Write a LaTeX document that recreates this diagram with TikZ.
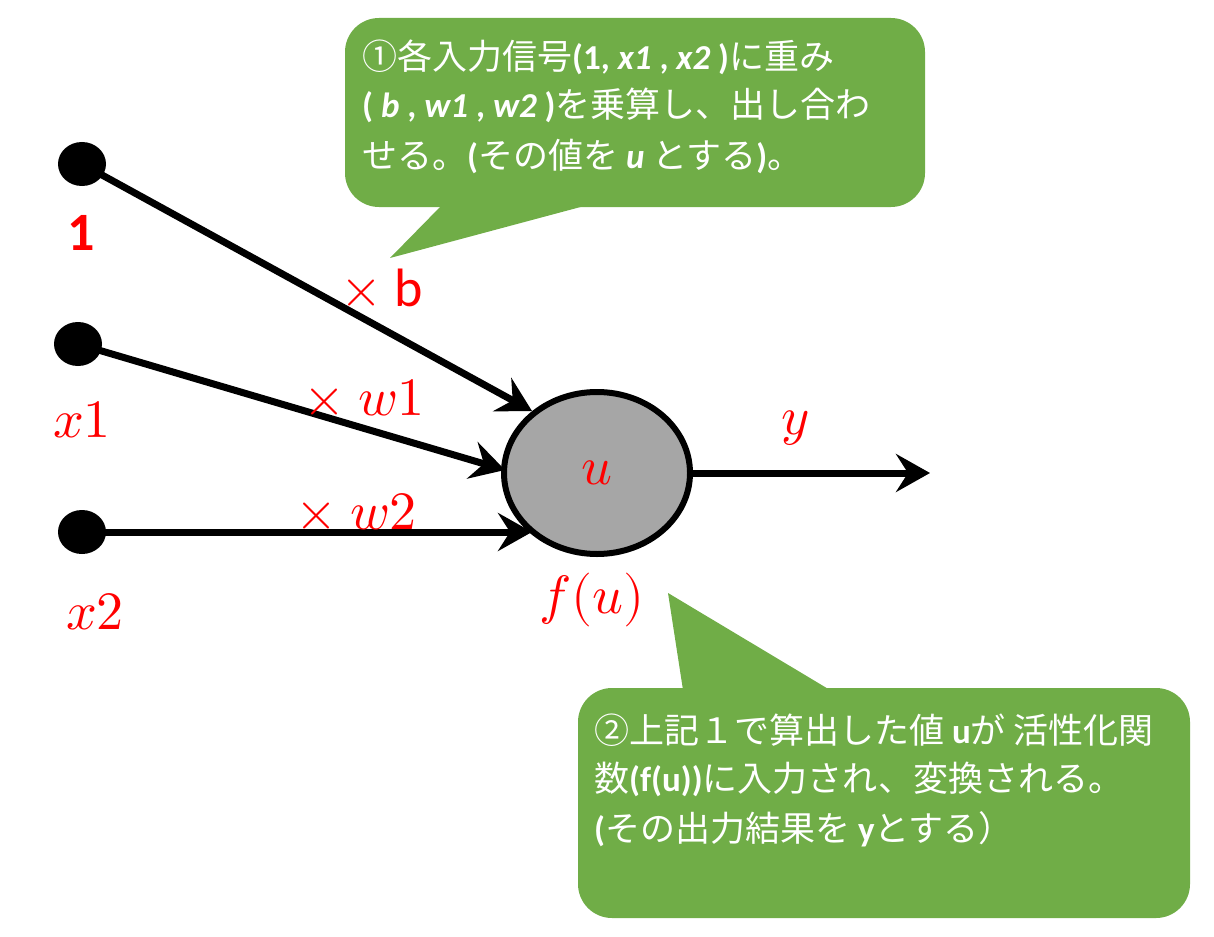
\documentclass[tikz,border=0pt]{standalone}
\usepackage{fontspec}
\usepackage{unicode-math}
\setmainfont{Carlito}
\setmathfont{Latin Modern Math}
\newfontfamily\jp{Noto Sans CJK JP}
\usetikzlibrary{arrows.meta,shapes.geometric}
\definecolor{callgreen}{HTML}{70AD47}
\definecolor{lblred}{HTML}{FF0000}
\definecolor{neugray}{HTML}{A6A6A6}
\newcommand{\lb}[1]{\textbf{#1}}
\newcommand{\lbi}[1]{\textbf{\textit{#1}}}
\begin{document}
\begin{tikzpicture}[x=1pt,y=-1pt,
  dot/.style={ellipse,fill=black,minimum width=48pt,minimum height=44pt,inner sep=0},
  neuron/.style={ellipse,draw=black,line width=6pt,fill=neugray,minimum width=186pt,minimum height=162pt,inner sep=0},
  conn/.style={line width=7pt,-{Stealth[length=34pt,width=38pt,inset=12pt]}},
  mlabel/.style={text=lblred,font=\fontsize{54}{60}\selectfont,inner sep=0},
  calltext/.style={text=white,font=\fontsize{35}{40}\selectfont,anchor=base west,inner sep=0},
  callout/.style={fill=callgreen,rounded corners=34pt}
]
\useasboundingbox (0,0) rectangle (1214,936);

% callout 1
\fill[callout] (345,18) rectangle (925,207);
\fill[callgreen] (442,205) -- (390,258) -- (588,205) -- cycle;
\node[calltext] (c1a) at (362,70) {{\jp ①各入力信号}\lb{(1, }\lbi{x1} \lb{,} \lbi{x2} \lb{)}{\jp に重み}};
\node[calltext] (c1b) at (362,118) {\lb{( }\lbi{b} \lb{,} \lbi{w1} \lb{,} \lbi{w2} \lb{)}{\jp を乗算し、出し合わ}};
\node[calltext] (c1c) at (362,168) {{\jp せる。}\lb{(}{\jp その値を} \lbi{u} {\jp とする}\lb{)}{\jp 。}};

% callout 2
\fill[callout] (578,688) rectangle (1190,918);
\fill[callgreen] (683,690) -- (668,593) -- (830,690) -- cycle;
\node[calltext] (c2a) at (594,743) {{\jp ②上記１で算出した値} \lb{u}{\jp が 活性化関}};
\node[calltext] (c2b) at (594,791) {{\jp 数}\lb{(f(u))}{\jp に入力され、変換される。}};
\node[calltext] (c2c) at (594,841) {\lb{(}{\jp その出力結果を} \lb{y}{\jp とする）}};

% inputs
\node[dot] (d1) at (82,164) {};
\node[dot] (d2) at (78,344) {};
\node[dot] (d3) at (82,532) {};
\node[neuron] (n) at (597,473) {};
\node[mlabel] (u) at (597,473) {$u$};

\coordinate (t1) at (532,411);
\coordinate (t2) at (505,470);
\coordinate (t3) at (532,532);
\coordinate (out) at (930,473);

\draw[conn] (d1.center) -- (t1);
\draw[conn] (d2.center) -- (t2);
\draw[conn] (d3.center) -- (t3);
\draw[conn] (n.east) -- (out);

% labels
\node[text=lblred,font=\fontsize{54}{60}\selectfont\bfseries,inner sep=0] (l1) at (81,233) {1};
\node[mlabel] (lx1) at (82,420) {$x1$};
\node[mlabel] (lx2) at (95,612) {$x2$};
\node[mlabel] (wb) at (382,288) {$\times\ \mathrm{b}$};
\node[mlabel] (w1) at (364,398) {$\times\ w1$};
\node[mlabel] (w2) at (356,512) {$\times\ w2$};
\node[mlabel] (ly) at (795,428) {$y$};
\node[mlabel] (fu) at (592,600) {$f(u)$};
\end{tikzpicture}
\end{document}
